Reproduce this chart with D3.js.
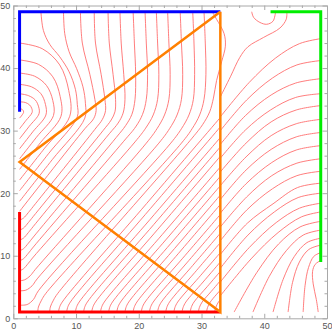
<!DOCTYPE html>
<html>
<head>
<meta charset="utf-8">
<script src="https://cdn.jsdelivr.net/npm/d3@7"></script>
<style>
body { margin: 0; background: #fff; }
.tick text { font: 9px "Liberation Sans", Arial, sans-serif; fill: #555; }
.frame path, .frame line { stroke: #a8a8a8; }
.contour { fill: none; stroke: #ff6e6e; stroke-width: 0.9; }
.wall { fill: none; stroke-linejoin: miter; }
</style>
</head>
<body>
<svg id="chart" width="332" height="335"></svg>
<script>

var majorTicks = [0, 10, 20, 30, 40, 50];
var minorTicks = [2, 4, 6, 8, 12, 14, 16, 18, 22, 24, 26, 28, 32, 34, 36, 38, 42, 44, 46, 48];

// boundary polylines
var redPath = [[1, 17], [1, 1], [33, 1]];
var bluePath = [[1, 33], [1, 49], [33, 49]];
var greenPath = [[41, 49], [49, 49], [49, 9]];
var orangePath = [[33, 49], [1, 25], [33, 1], [33, 49]];

// lines leaving the blue side and wrapping round its end
var chevronLines = [
  [[1,33.5],[1.4,33.4],[1.65,33.0],[1.4,32.5],[1,32.0]],
  [[1,34.6],[1.9,34.5],[2.6,34.1],[2.96,33.5],[3.0,32.9],[2.0,31.6],[1,30.3]],
  [[1,35.9],[2.4,35.6],[3.5,34.9],[4.04,33.8],[4.1,32.7],[2.55,30.7],[1,28.7]],
  [[1,37.4],[2.9,37.0],[4.4,35.9],[5.12,34.2],[5.2,32.5],[3.1,29.8],[1,27.1]],
  [[1,39.2],[3.4,38.7],[5.3,37.2],[6.3,34.8],[6.4,32.4],[3.7,28.95],[1,25.5]],
  [[1,41.3],[4.0,40.6],[6.3,38.6],[7.47,35.45],[7.6,32.3],[4.3,28.05],[1,23.8]],
  [[1,44.0],[4.6,43.1],[7.4,40.5],[8.84,36.4],[9.0,32.3],[5.0,27.2],[1,22.1]]
];

// lines leaving the blue top
var blueTopLines = [
  [[4.4,49],[4.8,46],[5.8,43.8],[7.4,41.8],[8.9,39.4],[9.9,36.6],[10.2,34.2],[10.2,32.2],[5.6,26.3],[1,20.4]],
  [[8.0,49],[8.2,45.5],[8.9,42.6],[10.1,39.9],[11.1,37.0],[11.5,34.3],[11.4,32.0],[6.2,25.35],[1,18.7]],
  [[10.7,49],[11.0,44],[12.2,39],[13.0,35],[13.2,33.2],[12.8,31.9],[11.4,30.3],[1,17.1]],
  [[12.9,49],[13.1,44],[14.0,39],[14.6,35],[14.7,33.2],[14.2,31.8],[13.0,30.2],[3.2,17.9],[2.4,16.9],[1.6,16.0],[1,15.7]],
  [[15.1,49],[15.3,44],[15.9,39],[16.3,35],[16.2,33.0],[15.6,31.7],[14.3,30.0],[3.2,16.3],[2.4,15.3],[1.6,14.4],[1,14.1]],
  [[17.0,49],[17.2,44],[17.6,39],[17.8,35],[17.5,32.8],[16.7,31.2],[15.3,29.5],[3.2,14.7],[2.4,13.7],[1.6,12.8],[1,12.5]],
  [[19.1,49],[19.3,44],[19.5,39],[19.4,35],[18.9,32.6],[17.9,30.8],[16.4,28.9],[3.2,13.0],[2.4,12.0],[1.6,11.1],[1,10.8]],
  [[21.0,49],[21.2,44],[21.4,39],[21.2,35],[20.6,32.6],[19.5,30.6],[17.6,28.3],[3.2,11.4],[2.4,10.4],[1.6,9.5],[1,9.2]],
  [[22.8,49],[23.0,44],[23.2,39],[23.0,35],[22.3,32.5],[21.1,30.4],[19.4,28.2],[3.2,9.8],[2.4,8.8],[1.6,7.9],[1,7.6]],
  [[24.6,49],[24.8,44],[25.0,39],[24.8,35],[24.1,32.5],[22.9,30.3],[21.2,28.0],[3.5,7.8],[2.7,6.8],[1.8,6.15],[1,6.0]],
  [[26.6,49],[26.8,44],[27.0,39],[26.8,35],[26.1,32.5],[24.9,30.3],[23.2,28.0],[3.8,6.3],[3.0,5.2],[2.0,4.5],[1,4.4]],
  [[28.6,49],[28.8,44],[28.9,39],[28.7,35],[28.0,32.5],[26.8,30.3],[25.1,28.0],[4.0,4.4],[3.2,3.0],[2.2,2.2],[1,2.1]],
  [[30.4,49],[30.6,44],[30.7,39],[30.4,35],[29.7,32.5],[28.5,30.3],[26.8,28.0],[5.2,4.0],[4.5,2.9],[4.0,1.8],[3.9,1]],
  [[31.7,49],[32.4,47.8],[33.6,45.5],[33.8,43.5],[33.2,41],[32.4,38],[31.9,35.2],[31.3,33],[30.2,31],[28.5,28.8],[7.1,4.0],[6.4,2.9],[5.9,1.8],[5.8,1]]
];

// lines from the red bottom up to the orange side
var redBottomLines = [
  [[7.2,1],[7.35,1.7],[7.8,2.6],[20.4,17.35],[33,32.1]],
  [[8.5,1],[8.65,1.7],[9.1,2.6],[21.05,16.6],[33,30.6]],
  [[9.9,1],[10.05,1.7],[10.5,2.6],[21.75,15.75],[33,28.9]],
  [[11.2,1],[11.35,1.7],[11.8,2.6],[22.4,15.0],[33,27.4]],
  [[12.5,1],[12.65,1.7],[13.1,2.6],[23.05,14.25],[33,25.9]],
  [[13.9,1],[14.05,1.7],[14.5,2.6],[23.75,13.4],[33,24.2]],
  [[15.2,1],[15.35,1.7],[15.8,2.6],[24.4,12.65],[33,22.7]],
  [[16.5,1],[16.65,1.7],[17.1,2.6],[25.05,11.9],[33,21.2]],
  [[17.8,1],[17.95,1.7],[18.4,2.6],[25.7,11.15],[33,19.7]],
  [[19.1,1],[19.25,1.7],[19.7,2.6],[26.35,10.4],[33,18.2]],
  [[20.4,1],[20.55,1.7],[21.0,2.6],[27.0,9.6],[33,16.6]],
  [[21.7,1],[21.85,1.7],[22.3,2.6],[27.65,8.85],[33,15.1]],
  [[23.0,1],[23.15,1.7],[23.6,2.6],[28.3,8.1],[33,13.6]],
  [[24.3,1],[24.45,1.7],[24.9,2.6],[28.95,7.35],[33,12.1]],
  [[25.6,1],[25.75,1.7],[26.2,2.6],[29.6,6.55],[33,10.5]],
  [[26.9,1],[27.05,1.7],[27.5,2.6],[30.25,5.8],[33,9.0]],
  [[28.2,1],[28.35,1.7],[28.8,2.6],[30.9,5.05],[33,7.5]],
  [[29.5,1],[29.65,1.7],[30.1,2.6],[31.55,4.3],[33,6.0]],
  [[30.8,1],[30.95,1.7],[31.4,2.6],[33,4.5]],
  [[32.1,1],[32.25,1.7],[32.7,2.6],[33,3.0]]
];

// lines in the right part, ending on the green side
var greenLines = [
  [[33,35.4],[34.6,38.6],[36.1,41.7],[37.4,43.4],[39.9,44.9],[42.5,46.4],[43.5,47.8],[43.6,49]],
  [[33,32.2],[37.6,37.7],[41.8,41.6],[45.6,43.9],[49,44.7]],
  [[33,30.0],[37.2,34.9],[41.3,38.4],[45.2,40.5],[49,41.2]],
  [[33,27.8],[37.0,32.4],[41.1,35.7],[45.0,37.6],[49,38.3]],
  [[33,25.6],[37.0,30.1],[41.0,33.3],[45.0,35.3],[49,35.9]],
  [[33,23.4],[37.1,28.0],[41.1,31.4],[45.1,33.3],[49,34.0]],
  [[33,21.2],[37.1,25.8],[41.1,29.2],[45.1,31.1],[49,31.8]],
  [[33,19.0],[37.1,23.7],[41.1,27.0],[45.1,29.0],[49,29.7]],
  [[33,16.8],[37.1,21.5],[41.2,24.9],[45.1,26.9],[49,27.6]],
  [[33,14.6],[37.2,19.4],[41.2,22.8],[45.2,24.8],[49,25.5]],
  [[33,12.4],[37.2,17.3],[41.3,20.7],[45.2,22.8],[49,23.5]],
  [[33,10.2],[37.3,15.2],[41.4,18.3],[45.3,20.9],[49,21.6]],
  [[33,8.0],[37.4,13.3],[41.6,17.0],[45.4,19.3],[49,20.0]],
  [[33,5.8],[37.6,11.3],[41.9,15.3],[45.6,17.6],[49,18.4]],
  [[33,3.6],[37.9,9.5],[42.2,13.7],[45.9,16.2],[49,17.0]],
  [[35.2,1],[38.8,7.3],[42.3,11.9],[45.7,14.6],[49,15.5]],
  [[38.2,1],[40.8,6.7],[43.5,10.8],[46.2,13.3],[49,14.1]],
  [[41.4,1],[43.0,6.2],[44.8,9.9],[46.8,12.1],[49,12.8]],
  [[43.8,1],[44.5,5.7],[45.6,9.0],[47.1,11.0],[49,11.7]],
  [[46.2,1],[46.5,5.2],[47.05,8.1],[47.9,9.9],[49,10.5]]
];

// odd short pieces near the open edges
var edgeLines = [
  [[48.6,1],[48.3,3],[47.8,5.5],[47.7,7.5],[48.1,8.6],[48.9,9.2]],
  [[38.0,49],[38.3,48.1],[39.3,47.3],[40.4,47.0],[41.4,47.5],[41.8,49]]
];

var svg = d3.select("#chart");
var x = d3.scaleLinear().domain([0, 50]).range([13.3, 327]);
var y = d3.scaleLinear().domain([0, 50]).range([318.3, 5.5]);

var curve = d3.line()
  .x(function(d) { return x(d[0]); })
  .y(function(d) { return y(d[1]); })
  .curve(d3.curveCatmullRom.alpha(0.5));
var straight = d3.line()
  .x(function(d) { return x(d[0]); })
  .y(function(d) { return y(d[1]); });

// frame with inward ticks, labels only bottom and left
function frameAxis(axis, scale, tr, labels) {
  var g = svg.append("g").attr("class", "frame").attr("transform", tr);
  g.call(axis(scale).tickValues(majorTicks).tickSize(-4.5).tickSizeOuter(0)
    .tickPadding(axis === d3.axisLeft ? 3 : 4)
    .tickFormat(labels ? d3.format("d") : ""));
  var m = svg.append("g").attr("class", "frame").attr("transform", tr);
  m.call(axis(scale).tickValues(minorTicks).tickSize(-2.5).tickSizeOuter(0).tickFormat(""));
  m.select(".domain").remove();
}
frameAxis(d3.axisBottom, x, "translate(0," + y(0) + ")", true);
frameAxis(d3.axisTop, x, "translate(0," + y(50) + ")", false);
frameAxis(d3.axisLeft, y, "translate(" + x(0) + ",0)", true);
frameAxis(d3.axisRight, y, "translate(" + x(50) + ",0)", false);

var lines = svg.append("g");
[chevronLines, blueTopLines, redBottomLines, greenLines, edgeLines].forEach(function(set) {
  lines.selectAll(null).data(set).enter().append("path")
    .attr("class", "contour")
    .attr("d", curve);
});

svg.append("path").attr("class", "wall").attr("d", straight(redPath))
  .attr("stroke", "#ff0000").attr("stroke-width", 3);
svg.append("path").attr("class", "wall").attr("d", straight(bluePath))
  .attr("stroke", "#0000ff").attr("stroke-width", 3);
svg.append("path").attr("class", "wall").attr("d", straight(greenPath))
  .attr("stroke", "#00ee00").attr("stroke-width", 3);
svg.append("path").attr("class", "wall").attr("d", straight(orangePath))
  .attr("stroke", "#ff8000").attr("stroke-width", 2.5);

</script>
</body>
</html>
